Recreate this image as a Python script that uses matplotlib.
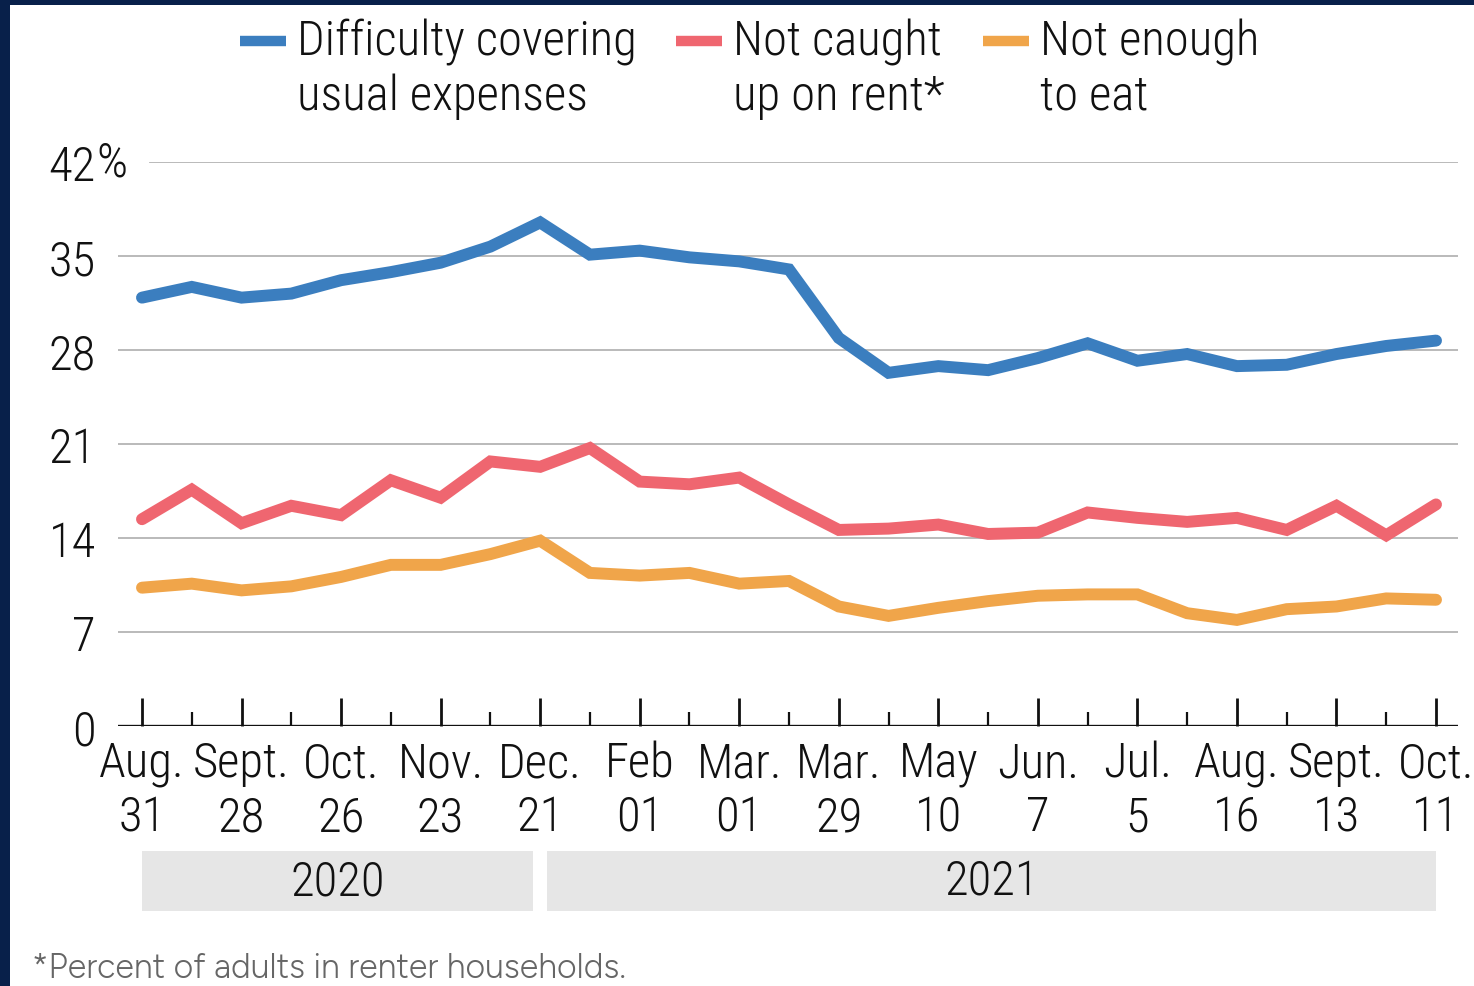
import matplotlib
matplotlib.use("Agg")
import matplotlib.pyplot as plt
from matplotlib import font_manager
from matplotlib.patches import Rectangle
from matplotlib.lines import Line2D
import matplotlib.transforms as mtransforms

# ---- data -------------------------------------------------------------
tick_labels = ["Aug.\n31", "Sept.\n28", "Oct.\n26", "Nov.\n23", "Dec.\n21",
               "Feb\n01", "Mar.\n01", "Mar.\n29", "May\n10", "Jun.\n7",
               "Jul.\n5", "Aug.\n16", "Sept.\n13", "Oct.\n11"]
years = ["2020", "2021"]

usual_expenses = [31.9, 32.7, 31.9, 32.2, 33.2, 33.8, 34.5, 35.7, 37.5,
                  35.1, 35.4, 34.9, 34.6, 34.0, 28.9, 26.3, 26.8, 26.5,
                  27.4, 28.5, 27.2, 27.7, 26.8, 26.9, 27.7, 28.3, 28.7]
behind_on_rent = [15.4, 17.6, 15.1, 16.4, 15.7, 18.3, 17.0, 19.7, 19.3,
                  20.7, 18.2, 18.0, 18.5, 16.5, 14.6, 14.7, 15.0, 14.3,
                  14.4, 15.9, 15.5, 15.2, 15.5, 14.6, 16.4, 14.2, 16.5]
not_enough_food = [10.3, 10.6, 10.1, 10.4, 11.1, 12.0, 12.0, 12.8, 13.8,
                   11.4, 11.2, 11.4, 10.6, 10.8, 8.9, 8.2, 8.8, 9.3,
                   9.7, 9.8, 9.8, 8.4, 7.9, 8.7, 8.9, 9.5, 9.4]
series_names = ["Difficulty covering\nusual expenses",
                "Not caught\nup on rent*",
                "Not enough\nto eat"]
footnote = "*Percent of adults in renter households."

# ---- fonts ------------------------------------------------------------
available = {f.name for f in font_manager.fontManager.ttflist}


def pick(candidates, fallback="DejaVu Sans"):
    for name in candidates:
        if name in available:
            return name
    return fallback


CONDENSED = pick(["Roboto Condensed", "Sofia Sans Condensed",
                  "Barlow Semi Condensed", "Encode Sans Condensed",
                  "Archivo Narrow", "PT Sans Narrow", "Open Sans Condensed",
                  "IBM Plex Sans Condensed", "Liberation Sans Narrow"])
REGULAR = pick(["Figtree", "Nunito Sans", "Mulish", "Lato"])
plt.rcParams["font.family"] = [CONDENSED, "DejaVu Sans"]
plt.rcParams["font.weight"] = "light"

# ---- styling ----------------------------------------------------------
W, H = 1474, 987
NAVY = "#08204a"
BLUE, RED, ORANGE = "#3b7ebf", "#ef6670", "#f0a54a"
GRID = "#b4b4b4"
INK = "#111111"
FS = 35

fig = plt.figure(figsize=(W / 100, H / 100), dpi=100)
fig.patch.set_facecolor("white")


def fx(x):
    return x / W


def fy(y):
    return 1 - y / H


# navy frame on the top and left edges
fig.add_artist(Rectangle((0, fy(6)), 1, 6 / H, transform=fig.transFigure,
                         facecolor=NAVY, edgecolor="none", zorder=0))
fig.add_artist(Rectangle((0, 0), fx(10), 1, transform=fig.transFigure,
                         facecolor=NAVY, edgecolor="none", zorder=0))

ax_left, ax_right = 118, 1458
ax_top, ax_bottom = 163, 727
ax = fig.add_axes([fx(ax_left), fy(ax_bottom), fx(ax_right - ax_left),
                   (ax_bottom - ax_top) / H])
ax.set_facecolor("none")

n = len(usual_expenses)
xs = list(range(n))
ax.set_xlim(-24 / 49.77, (n - 1) + 22 / 49.77)
ax.set_ylim(0, 42)

yticks = [0, 7, 14, 21, 28, 35, 42]
for v in yticks[1:]:
    start = 0.024 if v == 42 else 0.0
    ax.axhline(v, xmin=start, xmax=1, color=GRID, lw=1.3, zorder=1)
ax.axhline(0, color=INK, lw=2.4, zorder=4)

for vals, col in [(usual_expenses, BLUE), (behind_on_rent, RED),
                  (not_enough_food, ORANGE)]:
    ax.plot(xs, vals, color=col, lw=8.6, solid_capstyle="round",
            solid_joinstyle="miter", zorder=3, clip_on=False)

for s in ax.spines.values():
    s.set_visible(False)

# x axis ticks
ax.set_xticks(xs[::2])
ax.set_xticklabels(tick_labels, fontsize=FS, linespacing=1.2, color=INK)
ax.set_xticks(xs[1::2], minor=True)
ax.tick_params(axis="x", which="major", direction="in", length=20, width=2,
               color=INK, pad=10)
ax.tick_params(axis="x", which="minor", direction="in", length=10, width=1.6,
               color=INK)

# y axis labels
ax.set_yticks(yticks)
ax.set_yticklabels([str(v) for v in yticks], fontsize=FS, color=INK)
ax.tick_params(axis="y", length=0, pad=16)
ax.text(-0.0165, 42, "%", transform=mtransforms.blended_transform_factory(
    ax.transAxes, ax.transData), fontsize=FS, color=INK,
    ha="left", va="center")

# year bands under the date labels
band = mtransforms.blended_transform_factory(ax.transData, fig.transFigure)
band_spans = [(0, 7.86), (8.13, 26)]
for (a, b), label in zip(band_spans, years):
    fig.add_artist(Rectangle((a, fy(912)), b - a, 60 / H, transform=band,
                             facecolor="#e6e6e6", edgecolor="none", zorder=0))
    fig.text((a + b) / 2, fy(882), label, transform=band, fontsize=FS,
             ha="center", va="center", color=INK)

# legend
legend_items = [(240, 297, BLUE), (676, 733, RED), (983, 1040, ORANGE)]
for (px0, tx, col), name in zip(legend_items, series_names):
    fig.add_artist(Line2D([fx(px0), fx(px0 + 46)], [fy(42), fy(42)],
                          transform=fig.transFigure, color=col, lw=7.5,
                          solid_capstyle="butt"))
    fig.text(fx(tx), fy(19), name, fontsize=FS, ha="left", va="top",
             linespacing=1.2, color=INK)

fig.text(fx(32), fy(978), footnote, fontsize=24.5, color="#666666",
         ha="left", va="baseline", family=[REGULAR, "DejaVu Sans"],
         fontweight="normal")

fig.savefig("out.png", dpi=100, facecolor="white")
